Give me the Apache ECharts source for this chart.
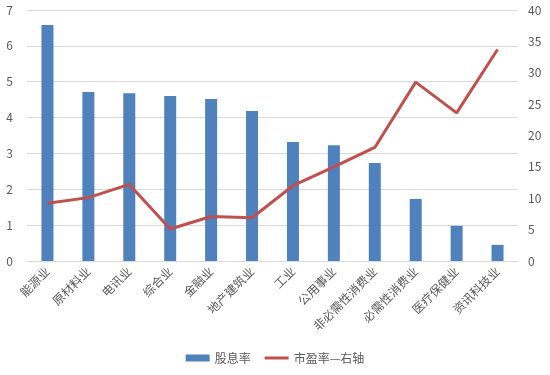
<!DOCTYPE html>
<html><head><meta charset="utf-8">
<script src="https://cdn.jsdelivr.net/npm/echarts@6/dist/echarts.min.js"></script>
<style>html,body{margin:0;padding:0;background:#fff}#c{width:550px;height:375px}</style>
</head><body><div id="c"></div>
<script>
const categories = ['能源业','原材料业','电讯业','综合业','金融业','地产建筑业','工业','公用事业','非必需性消费业','必需性消费业','医疗保健业','资讯科技业'];
const dividendYield = [6.58, 4.71, 4.68, 4.60, 4.52, 4.18, 3.32, 3.23, 2.73, 1.73, 0.98, 0.45];
const peRatio = [9.2, 10.1, 12.2, 5.1, 7.1, 6.9, 12.0, 15.0, 18.1, 28.5, 23.6, 33.7];
const leftTicks = {min: 0, max: 7, interval: 1};
const rightTicks = {min: 0, max: 40, interval: 5};

const chart = echarts.init(document.getElementById('c'));
const labelStyle = {color: '#595959', fontSize: 12, fontFamily: 'Microsoft YaHei, Noto Sans CJK SC, sans-serif'};
chart.setOption({
  animation: false,
  grid: {left: 27, right: 32, top: 10, bottom: 114},
  legend: {
    bottom: 6, left: 'center', itemGap: 14, itemWidth: 24, itemHeight: 7,
    textStyle: {color: '#595959', fontSize: 12, fontFamily: 'Noto Sans CJK SC, sans-serif'},
    data: [{name: '股息率', icon: 'rect'}, {name: '市盈率—右轴', icon: 'path://M0,0 L8,0 L8,1 L0,1 Z'}]
  },
  xAxis: {
    type: 'category', data: categories,
    axisLine: {lineStyle: {color: '#d9d9d9'}},
    axisTick: {show: false},
    axisLabel: Object.assign({rotate: 45, interval: 0, margin: 8}, labelStyle)
  },
  yAxis: [
    {type: 'value', min: leftTicks.min, max: leftTicks.max, interval: leftTicks.interval,
     axisLine: {show: false}, axisTick: {show: false},
     splitLine: {lineStyle: {color: '#d9d9d9'}},
     axisLabel: Object.assign({margin: 14}, labelStyle)},
    {type: 'value', min: rightTicks.min, max: rightTicks.max, interval: rightTicks.interval,
     axisLine: {show: false}, axisTick: {show: false},
     splitLine: {show: false},
     axisLabel: Object.assign({margin: 10}, labelStyle)}
  ],
  series: [
    {name: '股息率', type: 'bar', data: dividendYield, barWidth: 12,
     itemStyle: {color: '#4F81BD'}},
    {name: '市盈率—右轴', type: 'line', yAxisIndex: 1, data: peRatio,
     symbol: 'none', lineStyle: {color: '#C0504D', width: 3}, itemStyle: {color: '#C0504D'}}
  ]
});
</script></body></html>
